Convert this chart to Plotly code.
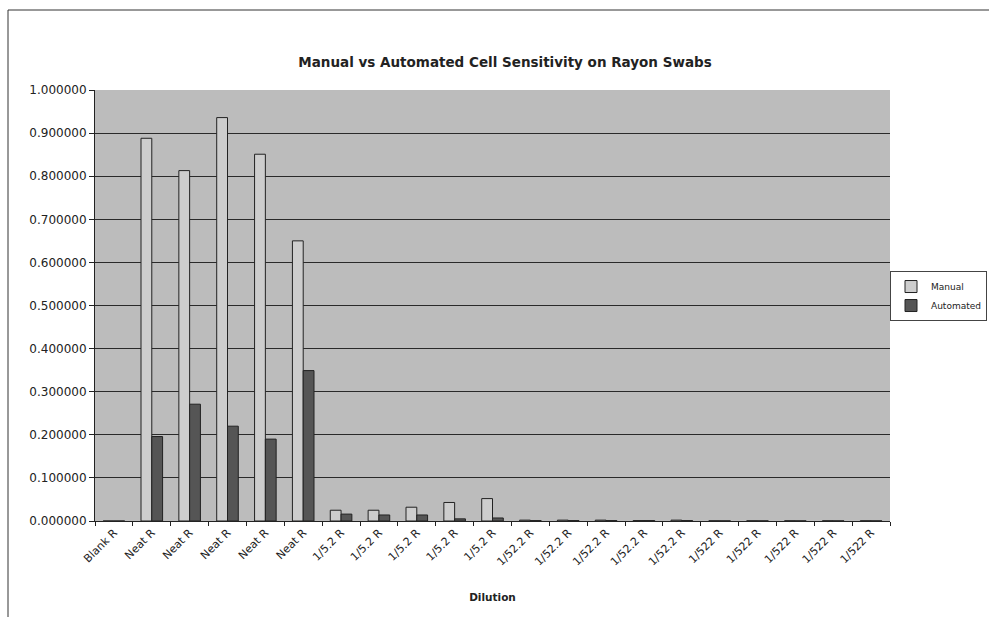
import plotly.graph_objects as go

categories = ["Blank R", "Neat R", "Neat R", "Neat R", "Neat R", "Neat R",
              "1/5.2 R", "1/5.2 R", "1/5.2 R", "1/5.2 R", "1/5.2 R",
              "1/52.2 R", "1/52.2 R", "1/52.2 R", "1/52.2 R", "1/52.2 R",
              "1/522 R", "1/522 R", "1/522 R", "1/522 R", "1/522 R"]
manual = [0.0, 0.888, 0.813, 0.936, 0.851, 0.650,
          0.025, 0.025, 0.032, 0.043, 0.052,
          0.002, 0.002, 0.002, 0.001, 0.002,
          0.0005, 0.0005, 0.0005, 0.0005, 0.0005]
automated = [0.0, 0.196, 0.271, 0.220, 0.190, 0.349,
             0.016, 0.014, 0.014, 0.005, 0.007,
             0.001, 0.001, 0.001, 0.001, 0.001,
             0.0003, 0.0003, 0.0003, 0.0003, 0.0003]
y_ticks = [0.0, 0.1, 0.2, 0.3, 0.4, 0.5, 0.6, 0.7, 0.8, 0.9, 1.0]

x_pos = list(range(len(categories)))
FONT = "DejaVu Sans, Arial, sans-serif"

W, H = 989, 617
L, R, T, B = 95, 99, 90, 96
PW = W - L - R
PH = H - T - B

fig = go.Figure()
fig.add_trace(go.Bar(x=x_pos, y=manual, name="Manual",
                     marker=dict(color="#cdcdcd", line=dict(color="#222222", width=1))))
fig.add_trace(go.Bar(x=x_pos, y=automated, name="Automated",
                     marker=dict(color="#555555", line=dict(color="#222222", width=1))))

fig.update_layout(
    width=W, height=H,
    margin=dict(l=L, r=R, t=T, b=B, autoexpand=False),
    paper_bgcolor="white",
    plot_bgcolor="#bcbcbc",
    barmode="group", bargap=0.43, bargroupgap=0,
    font=dict(family=FONT, size=10, color="#222222"),
    title=dict(text="<b>Manual vs Automated Cell Sensitivity on Rayon Swabs</b>",
               x=505/W, xanchor="center", y=1-62/H, yanchor="middle",
               font=dict(size=13.5, family=FONT, color="#222222")),
    legend=dict(x=(987-L)/PW, xanchor="right", y=0.522, yanchor="middle",
                bordercolor="#444444", borderwidth=1, bgcolor="white",
                font=dict(size=9), itemwidth=30, tracegroupgap=0),
    showlegend=True,
)
fig.update_xaxes(
    range=[-0.5, len(categories) - 0.5],
    tickvals=x_pos, ticktext=categories, tickangle=-45,
    ticks="", showgrid=False, showline=True, linecolor="#222222", linewidth=1,
    minor=dict(ticks="outside", tick0=0.5, dtick=1, ticklen=4, tickcolor="#222222", showgrid=False),
    tickfont=dict(size=11),
    title=dict(text="<b>Dilution</b>", font=dict(size=10.5), standoff=26),
)
fig.update_yaxes(
    range=[0, 1.0], tickvals=y_ticks, tickformat=".6f",
    ticks="outside", ticklen=5, tickcolor="#222222",
    showgrid=True, gridcolor="#2a2a2a", gridwidth=1,
    showline=True, linecolor="#222222", linewidth=1, zeroline=False,
    tickfont=dict(size=12),
)
fig.add_shape(type="rect", xref="paper", yref="paper",
              x0=-(L - 8)/PW, x1=1.3, y0=-0.3, y1=1 + (T - 10)/PH,
              line=dict(color="#333333", width=1), fillcolor="rgba(0,0,0,0)", layer="below")

fig.write_html("out.html", config={"displayModeBar": False},
               post_script="document.body.style.margin='0';")
